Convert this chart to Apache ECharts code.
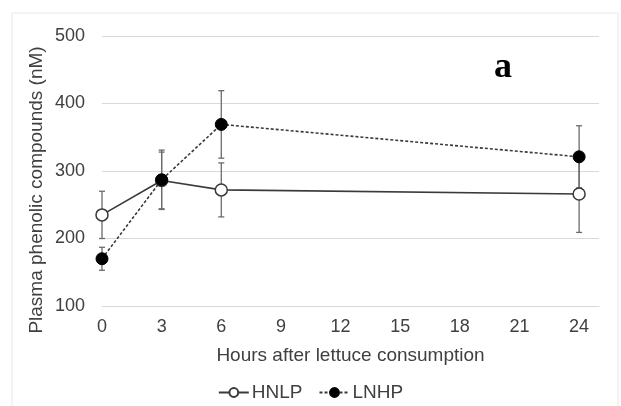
<!DOCTYPE html>
<html>
<head>
<meta charset="utf-8">
<script src="https://cdn.jsdelivr.net/npm/echarts@6/dist/echarts.min.js"></script>
<style>
  html, body { margin: 0; padding: 0; background: #fff; }
  #chart { width: 621px; height: 406px; }
</style>
</head>
<body>
<div id="chart"></div>
<script>
// values
const hours = [0, 3, 6, 24];
const hnlpMean = [235, 286, 272, 266];
const hnlpErr = [35, 42, 40, 57];
const lnhpMean = [170, 287, 369, 321];
const lnhpErr = [17, 44, 50, 46];
const xTicks = [0, 3, 6, 9, 12, 15, 18, 21, 24];

const font = 'Liberation Sans, Arial, sans-serif';
const textColor = '#404040';

function pairs(means) {
  return hours.map((h, i) => [h, means[i]]);
}
function bars(means, errs) {
  return hours.map((h, i) => [h, means[i] - errs[i], means[i] + errs[i]]);
}

function errorBar(params, api) {
  const x = api.value(0);
  const top = api.coord([x, api.value(2)]);
  const bot = api.coord([x, api.value(1)]);
  const cap = 3;
  const style = { stroke: '#6b6b6b', lineWidth: 1.3 };
  return {
    type: 'group',
    children: [
      { type: 'line', shape: { x1: top[0], y1: top[1], x2: bot[0], y2: bot[1] }, style: style },
      { type: 'line', shape: { x1: top[0] - cap, y1: top[1], x2: top[0] + cap, y2: top[1] }, style: style },
      { type: 'line', shape: { x1: bot[0] - cap, y1: bot[1], x2: bot[0] + cap, y2: bot[1] }, style: style }
    ]
  };
}

const chart = echarts.init(document.getElementById('chart'));

chart.setOption({
  animation: false,
  backgroundColor: '#fff',
  grid: { left: 102, right: 22, top: 36, bottom: 100 },
  graphic: [
    {
      type: 'rect',
      shape: { x: 12, y: 13, width: 606, height: 400 },
      style: { fill: 'none', stroke: '#e8e8e8', lineWidth: 1 },
      z: -1
    },
    {
      type: 'text',
      x: 37, y: 190,
      rotation: Math.PI / 2,
      style: {
        text: 'Plasma phenolic compounds (nM)',
        font: '19px ' + font,
        fill: textColor,
        align: 'center',
        verticalAlign: 'middle'
      }
    },
    {
      type: 'text',
      x: 503, y: 68,
      style: {
        text: 'a',
        font: 'bold 36px Liberation Serif, Times New Roman, serif',
        fill: '#000',
        align: 'center',
        verticalAlign: 'middle'
      }
    }
  ],
  legend: {
    bottom: -1,
    left: 'center',
    itemWidth: 30,
    itemHeight: 11,
    itemGap: 16,
    textStyle: { fontFamily: font, fontSize: 19, color: textColor, padding: [0, 0, 0, -2] },
    data: ['HNLP', 'LNHP']
  },
  xAxis: {
    type: 'value',
    min: 0,
    max: 25,
    interval: 3,
    name: 'Hours after lettuce consumption',
    nameLocation: 'middle',
    nameGap: 40,
    nameTextStyle: { fontFamily: font, fontSize: 19, color: textColor },
    axisLine: { show: true, lineStyle: { color: '#d9d9d9' } },
    axisTick: { show: false },
    splitLine: { show: false },
    axisLabel: {
      fontFamily: font, fontSize: 18, color: textColor, margin: 12,
      showMaxLabel: false,
      formatter: v => (xTicks.indexOf(v) >= 0 ? String(v) : '')
    }
  },
  yAxis: {
    type: 'value',
    min: 100,
    max: 500,
    interval: 100,
    axisLine: { show: false },
    axisTick: { show: false },
    splitLine: { lineStyle: { color: '#d9d9d9', width: 1 } },
    axisLabel: { fontFamily: font, fontSize: 18, color: textColor, margin: 17 }
  },
  series: [
    {
      type: 'custom',
      name: 'HNLP err',
      renderItem: errorBar,
      data: bars(hnlpMean, hnlpErr),
      encode: { x: 0, y: [1, 2] },
      z: 1,
      silent: true
    },
    {
      type: 'custom',
      name: 'LNHP err',
      renderItem: errorBar,
      data: bars(lnhpMean, lnhpErr),
      encode: { x: 0, y: [1, 2] },
      z: 1,
      silent: true
    },
    {
      type: 'line',
      name: 'HNLP',
      data: pairs(hnlpMean),
      symbol: 'circle',
      symbolSize: 12,
      itemStyle: { color: '#fff', borderColor: '#3a3a3a', borderWidth: 1.5 },
      lineStyle: { color: '#3a3a3a', width: 1.6, type: 'solid' },
      z: 3
    },
    {
      type: 'line',
      name: 'LNHP',
      data: pairs(lnhpMean),
      symbol: 'circle',
      symbolSize: 12,
      itemStyle: { color: '#000', borderColor: '#000', borderWidth: 1 },
      lineStyle: { color: '#3a3a3a', width: 1.6, type: [3, 2] },
      z: 4
    }
  ]
});
</script>
</body>
</html>
